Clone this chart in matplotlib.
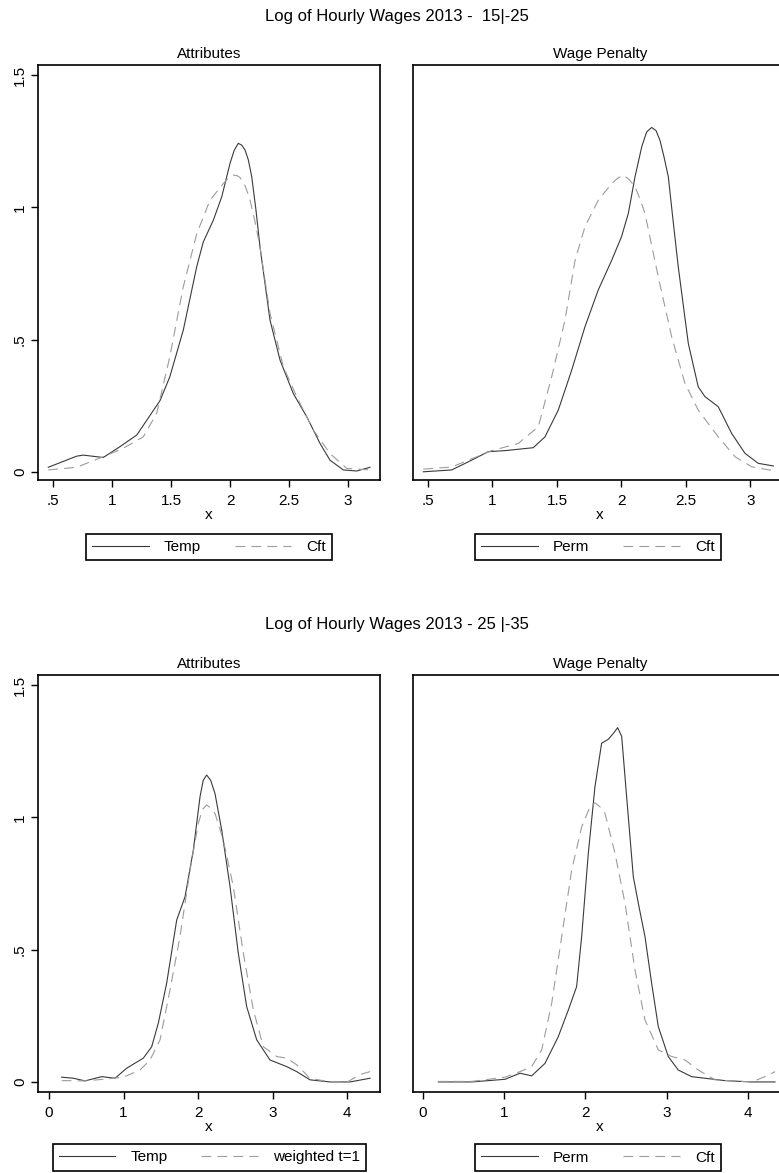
import matplotlib
matplotlib.use("Agg")
from matplotlib import pyplot as plt

plt.rcParams["font.family"] = ["Liberation Sans", "DejaVu Sans"]
plt.rcParams["lines.scale_dashes"] = False

# ---- panel 1: 15|-25, Attributes
temp1_x = [0.46, 0.70, 0.757, 0.926, 1.068, 1.21, 1.407, 1.49, 1.604, 1.718, 1.774, 1.859, 1.93, 2.0,
           2.035, 2.07, 2.10, 2.127, 2.155, 2.184, 2.22, 2.254, 2.339, 2.424, 2.536, 2.65, 2.763, 2.847,
           2.96, 3.074, 3.186]
temp1_y = [0.018, 0.06, 0.064, 0.055, 0.096, 0.14, 0.27, 0.36, 0.536, 0.776, 0.87, 0.952, 1.04, 1.166,
           1.215, 1.242, 1.235, 1.217, 1.18, 1.116, 0.99, 0.851, 0.574, 0.423, 0.297, 0.209, 0.108, 0.045,
           0.008, 0.004, 0.018]
cft1_x = [0.46, 0.70, 0.926, 1.096, 1.265, 1.379, 1.49, 1.604, 1.718, 1.83, 1.943, 1.985, 2.028, 2.06,
          2.085, 2.13, 2.17, 2.21, 2.254, 2.339, 2.452, 2.565, 2.706, 2.847, 2.989, 3.186]
cft1_y = [0.008, 0.018, 0.058, 0.09, 0.133, 0.222, 0.436, 0.70, 0.90, 1.027, 1.09, 1.11, 1.122, 1.12,
          1.113, 1.08, 1.027, 0.95, 0.851, 0.60, 0.398, 0.285, 0.159, 0.07, 0.014, 0.008]

# ---- panel 2: 15|-25, Wage Penalty
perm2_x = [0.464, 0.684, 0.839, 0.967, 1.097, 1.316, 1.407, 1.51, 1.614, 1.717, 1.82, 1.924, 2.0, 2.053,
           2.105, 2.157, 2.195, 2.234, 2.268, 2.298, 2.33, 2.363, 2.40, 2.44, 2.518, 2.595, 2.647, 2.75,
           2.854, 2.957, 3.06, 3.177]
perm2_y = [0.001, 0.008, 0.045, 0.077, 0.081, 0.092, 0.133, 0.234, 0.385, 0.549, 0.688, 0.80, 0.889, 0.977,
           1.116, 1.229, 1.285, 1.302, 1.29, 1.254, 1.19, 1.116, 0.95, 0.776, 0.486, 0.322, 0.285, 0.247,
           0.146, 0.071, 0.033, 0.023]
cft2_x = [0.464, 0.684, 0.839, 0.994, 1.2, 1.355, 1.459, 1.562, 1.64, 1.717, 1.82, 1.924, 1.97, 2.014,
          2.06, 2.105, 2.145, 2.182, 2.285, 2.389, 2.492, 2.595, 2.75, 2.88, 3.009, 3.177]
cft2_y = [0.011, 0.019, 0.05, 0.081, 0.108, 0.171, 0.36, 0.574, 0.80, 0.927, 1.027, 1.09, 1.11, 1.122,
          1.105, 1.078, 1.03, 0.977, 0.738, 0.511, 0.335, 0.234, 0.133, 0.058, 0.02, 0.005]

# ---- panel 3: 25|-35, Attributes
temp3_x = [0.17, 0.327, 0.483, 0.707, 0.886, 1.043, 1.266, 1.378, 1.467, 1.579, 1.714, 1.826, 1.937, 2.027,
           2.07, 2.116, 2.17, 2.228, 2.318, 2.43, 2.541, 2.653, 2.788, 2.966, 3.19, 3.325, 3.503, 3.772,
           4.04, 4.309]
temp3_y = [0.018, 0.014, 0.004, 0.02, 0.014, 0.052, 0.09, 0.133, 0.222, 0.373, 0.612, 0.70, 0.876, 1.078,
           1.14, 1.16, 1.14, 1.09, 0.952, 0.738, 0.486, 0.285, 0.159, 0.083, 0.058, 0.039, 0.008, 0.0,
           0.0, 0.014]
wgt3_x = [0.17, 0.483, 0.729, 0.998, 1.221, 1.356, 1.49, 1.624, 1.758, 1.893, 2.004, 2.06, 2.116, 2.17,
          2.228, 2.34, 2.474, 2.609, 2.743, 2.877, 3.056, 3.19, 3.325, 3.503, 3.772, 4.018, 4.174, 4.309]
wgt3_y = [0.005, 0.004, 0.01, 0.018, 0.045, 0.083, 0.159, 0.348, 0.549, 0.80, 0.977, 1.03, 1.047, 1.035,
          1.015, 0.914, 0.738, 0.486, 0.272, 0.133, 0.096, 0.09, 0.065, 0.014, 0.0, 0.002, 0.028, 0.039]

# ---- panel 4: 25|-35, Wage Penalty
perm4_x = [0.189, 0.6, 1.01, 1.195, 1.338, 1.502, 1.666, 1.79, 1.892, 1.954, 2.036, 2.118, 2.2, 2.282,
           2.344, 2.397, 2.447, 2.508, 2.59, 2.652, 2.734, 2.816, 2.898, 3.021, 3.144, 3.309, 3.473, 3.719,
           4.048, 4.335]
perm4_y = [0.0, 0.0, 0.01, 0.033, 0.023, 0.07, 0.171, 0.272, 0.36, 0.549, 0.864, 1.116, 1.28, 1.295,
           1.317, 1.339, 1.306, 1.078, 0.776, 0.675, 0.549, 0.373, 0.209, 0.096, 0.045, 0.02, 0.014, 0.005,
           0.0, 0.0]
cft4_x = [0.189, 0.6, 1.01, 1.195, 1.338, 1.462, 1.585, 1.708, 1.831, 1.954, 2.057, 2.118, 2.18, 2.241,
          2.365, 2.488, 2.611, 2.734, 2.898, 3.063, 3.227, 3.391, 3.596, 4.048, 4.212, 4.335]
cft4_y = [0.002, 0.002, 0.018, 0.039, 0.058, 0.121, 0.297, 0.549, 0.80, 0.964, 1.04, 1.055, 1.04, 1.015,
          0.864, 0.675, 0.423, 0.234, 0.121, 0.096, 0.083, 0.045, 0.008, 0.0, 0.02, 0.039]

top_xticks = [0.5, 1, 1.5, 2, 2.5, 3]
top_xlabels = [".5", "1", "1.5", "2", "2.5", "3"]
bot_xticks = [0, 1, 2, 3, 4]
bot_xlabels = ["0", "1", "2", "3", "4"]
yticks = [0, 0.5, 1, 1.5]
ylabels = ["0", ".5", "1", "1.5"]

SOLID = "#3a3a3a"
DASH = "#9c9c9c"
W, H = 779, 1173


def panel(rect, xlim, ylim, xticks, xlabels, title, sx, sy, dx, dy, lab1, lab2, leg_center, show_y):
    ax = fig.add_axes([rect[0] / W, 1 - rect[3] / H, (rect[2] - rect[0]) / W, (rect[3] - rect[1]) / H])
    ax.plot(sx, sy, color=SOLID, lw=0.8, label=lab1)
    ax.plot(dx, dy, color=DASH, lw=0.8, linestyle=(0, (7, 4.5)), label=lab2)
    ax.set_xlim(*xlim)
    ax.set_ylim(*ylim)
    ax.set_xticks(xticks, xlabels)
    ax.set_yticks(yticks, ylabels)
    for lbl in ax.get_yticklabels():
        lbl.set_rotation(90)
        lbl.set_va("center")
    ax.tick_params(axis="both", labelsize=11, length=5, width=1, direction="out")
    ax.tick_params(axis="x", pad=5)
    ax.tick_params(axis="y", pad=3)
    if not show_y:
        ax.tick_params(axis="y", left=False, labelleft=False)
    for sp in ax.spines.values():
        sp.set_linewidth(1.2)
    ax.set_xlabel("x", fontsize=11, labelpad=0)
    ax.set_title(title, fontsize=11, pad=5)
    ax.legend(loc="center", bbox_to_anchor=(leg_center[0] / W, 1 - leg_center[1] / H),
              bbox_transform=fig.transFigure, ncol=2, fontsize=11, frameon=True, fancybox=False,
              edgecolor="black", framealpha=1, handlelength=3.7, handletextpad=1.0,
              columnspacing=2.2, borderpad=0.4).get_frame().set_linewidth(1.2)
    return ax


fig = plt.figure(figsize=(W / 100, H / 100), dpi=100)

fig.text(0.51, 1 - 16 / H, "Log of Hourly Wages 2013 -  15|-25", ha="center", va="center", fontsize=12)
fig.text(0.51, 1 - 625 / H, "Log of Hourly Wages 2013 - 25 |-35", ha="center", va="center", fontsize=12)

panel((38, 65, 380, 480), (0.373, 3.271), (-0.030, 1.538), top_xticks, top_xlabels, "Attributes",
      temp1_x, temp1_y, cft1_x, cft1_y, "Temp", "Cft", (209, 547), True)
panel((413, 65, 787, 480), (0.384, 3.283), (-0.030, 1.538), top_xticks, top_xlabels, "Wage Penalty",
      perm2_x, perm2_y, cft2_x, cft2_y, "Perm", "Cft", (598, 547), False)
panel((38, 675, 380, 1092), (-0.148, 4.443), (-0.038, 1.538), bot_xticks, bot_xlabels, "Attributes",
      temp3_x, temp3_y, wgt3_x, wgt3_y, "Temp", "weighted t=1", (209.5, 1157.5), True)
panel((413, 675, 787, 1092), (-0.123, 4.483), (-0.038, 1.538), bot_xticks, bot_xlabels, "Wage Penalty",
      perm4_x, perm4_y, cft4_x, cft4_y, "Perm", "Cft", (598, 1157.5), False)

fig.savefig("out.png", dpi=100)
